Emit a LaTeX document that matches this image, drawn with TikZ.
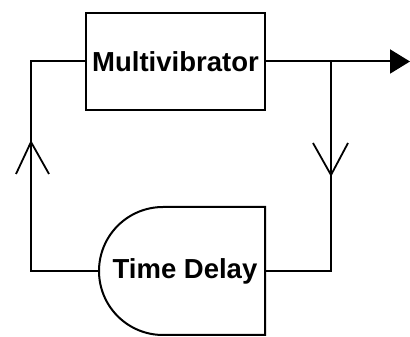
\documentclass[tikz,border=0pt]{standalone}
\usepackage{fontspec}
\setmainfont{Liberation Sans}
\usetikzlibrary{arrows.meta}
\tikzset{
  blk/.style={draw, line width=2pt, minimum width=179pt, minimum height=97pt, inner sep=0pt},
  lbl/.style={font=\fontsize{27.5}{30}\selectfont\bfseries},
  wire/.style={line width=2pt},
  chev/.style={line width=1.8pt}
}
\begin{document}
\begin{tikzpicture}[x=1pt,y=1pt]
    \useasboundingbox (0,0) rectangle (410,337);
    \node[blk,lbl] (mv) at (175.5,275.5) {Multivibrator};
    % time delay block
    \coordinate (tdtop) at (163,130);
    \coordinate (tdin) at (99,66);
    \coordinate (tdout) at (265,66);
    \draw[wire] (tdtop) -- (265,130) -- (265,2) -- (163,2)
        arc[start angle=270, end angle=90, radius=64] -- cycle;
    \node[lbl] (td) at (185,66) {Time Delay};
    % loop
    \coordinate (cl) at (31,275.5);
    \coordinate (cr) at (331,275.5);
    \coordinate (out) at (410,275.5);
    \draw[wire] (tdin) -- (31,66) -- (cl) -- (mv.west);
    \draw[wire] (tdout) -- (331,66) -- (cr);
    \draw[wire,-{Triangle[length=20pt,width=24pt]}] (mv.east) -- (out);
    % direction marks
    \draw[chev] (16,163) -- (31,195) -- (49,163);
    \draw[chev] (313,194) -- (331,162) -- (348,194);
\end{tikzpicture}
\end{document}
